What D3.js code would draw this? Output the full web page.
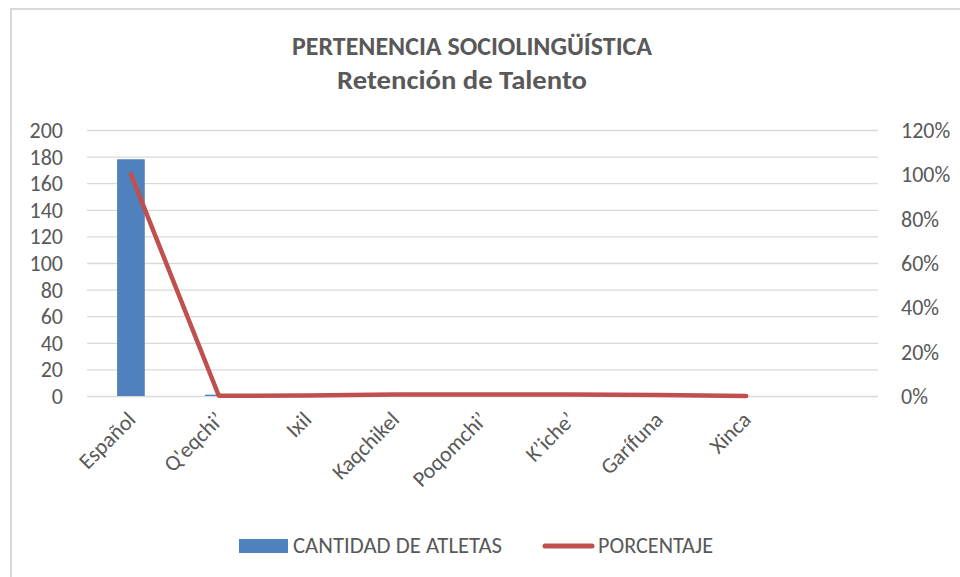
<!DOCTYPE html>
<html>
<head>
<meta charset="utf-8">
<script src="https://cdn.jsdelivr.net/npm/d3@7"></script>
<style>
  body { margin: 0; background: #fff; }
  text { font-family: Carlito, Calibri, "Open Sans", sans-serif; fill: #595959; }
</style>
</head>
<body>
<div id="container"></div>
<script>
// data
let categories = ["Español", "Q'eqchi’", "Ixil", "Kaqchikel", "Poqomchi’", "K’iche’", "Garífuna", "Xinca"];
let cantidad = [178, 1, 0, 1, 1, 1, 0, 0];
let porcentaje = [1.0, 0.001, 0.002, 0.007, 0.007, 0.007, 0.004, 0.0];
let leftTicks = [0, 20, 40, 60, 80, 100, 120, 140, 160, 180, 200];
let rightTicks = [0, 0.2, 0.4, 0.6, 0.8, 1.0, 1.2];

let w = 960;
let h = 577;
let plotLeft = 87;
let plotRight = 878;
let plotTop = 130;
let plotBottom = 396;

let viz = d3.select("#container")
  .append("svg")
    .attr("width", w)
    .attr("height", h)
;

// chart border (only left and top edges fall inside the picture)
viz.append("path")
  .attr("d", "M11," + h + "V9H" + w)
  .attr("fill", "none")
  .attr("stroke", "#d9d9d9")
  .attr("stroke-width", 2);

// title
viz.append("text")
  .attr("x", 472).attr("y", 55)
  .attr("text-anchor", "middle")
  .attr("font-size", 26).attr("font-weight", "bold")
  .attr("textLength", 360).attr("lengthAdjust", "spacingAndGlyphs")
  .text("PERTENENCIA SOCIOLINGÜÍSTICA");
viz.append("text")
  .attr("x", 462).attr("y", 89)
  .attr("text-anchor", "middle")
  .attr("font-size", 26).attr("font-weight", "bold")
  .attr("textLength", 250).attr("lengthAdjust", "spacingAndGlyphs")
  .text("Retención de Talento");

// one empty slot after Xinca, like the original
let slots = categories.concat([""]);
let xScale = d3.scaleBand().domain(slots).range([plotLeft, plotRight]);
let yScale = d3.scaleLinear().domain([0, 200]).range([plotBottom, plotTop]);
let yRight = d3.scaleLinear().domain([0, 1.2]).range([plotBottom, plotTop]);

let yAxis = d3.axisLeft(yScale)
  .tickValues(leftTicks)
  .tickSize(-(plotRight - plotLeft))
  .tickPadding(24);
let yAxisGroup = viz.append("g")
  .attr("class", "yaxisgroup")
  .attr("transform", "translate(" + plotLeft + ",0)")
  .call(yAxis);
yAxisGroup.select(".domain").remove();
yAxisGroup.selectAll("line").attr("stroke", "#d9d9d9").attr("stroke-width", 1.3);
yAxisGroup.selectAll("text")
  .attr("font-size", 22).attr("dy", "0.34em");

let yAxisRight = d3.axisRight(yRight)
  .tickValues(rightTicks)
  .tickSize(0)
  .tickPadding(23)
  .tickFormat(d3.format(".0%"));
let yRightGroup = viz.append("g")
  .attr("class", "yrightgroup")
  .attr("transform", "translate(" + plotRight + ",0)")
  .call(yAxisRight);
yRightGroup.select(".domain").remove();
yRightGroup.selectAll("text")
  .attr("font-size", 22).attr("dy", "0.34em");

// category labels rotated -45
viz.append("g").selectAll("text")
  .data(categories)
  .enter()
  .append("text")
    .attr("text-anchor", "end")
    .attr("font-size", 22)
    .attr("transform", function(d){
      let cx = xScale(d) + xScale.bandwidth() / 2;
      return "translate(" + (cx + 6) + ",421) rotate(-45)";
    })
    .text(d => d);

// bars
let barW = xScale.bandwidth() * 0.315;
viz.append("g").selectAll("rect")
  .data(categories)
  .enter()
  .append("rect")
    .attr("x", (d, i) => xScale(d) + xScale.bandwidth() / 2 - barW / 2)
    .attr("y", (d, i) => yScale(cantidad[i]))
    .attr("width", barW)
    .attr("height", (d, i) => plotBottom - yScale(cantidad[i]))
    .attr("fill", "#4f81bd");

// percentage line
let lineMaker = d3.line()
  .x((d, i) => xScale(categories[i]) + xScale.bandwidth() / 2)
  .y(d => yRight(d));
viz.append("path")
  .datum(porcentaje)
  .attr("d", lineMaker)
  .attr("fill", "none")
  .attr("stroke", "#c0504d")
  .attr("stroke-width", 4.5)
  .attr("stroke-linejoin", "round")
  .attr("stroke-linecap", "round");

// legend
let legend = viz.append("g").attr("class", "legend");
legend.append("rect")
  .attr("x", 239).attr("y", 539)
  .attr("width", 49).attr("height", 14)
  .attr("fill", "#4f81bd");
legend.append("text")
  .attr("x", 293).attr("y", 553)
  .attr("font-size", 22)
  .attr("textLength", 209).attr("lengthAdjust", "spacingAndGlyphs")
  .text("CANTIDAD DE ATLETAS");
legend.append("line")
  .attr("x1", 545).attr("x2", 592)
  .attr("y1", 546).attr("y2", 546)
  .attr("stroke", "#c0504d")
  .attr("stroke-width", 5)
  .attr("stroke-linecap", "round");
legend.append("text")
  .attr("x", 598).attr("y", 553)
  .attr("font-size", 22)
  .attr("textLength", 115).attr("lengthAdjust", "spacingAndGlyphs")
  .text("PORCENTAJE");
</script>
</body>
</html>
